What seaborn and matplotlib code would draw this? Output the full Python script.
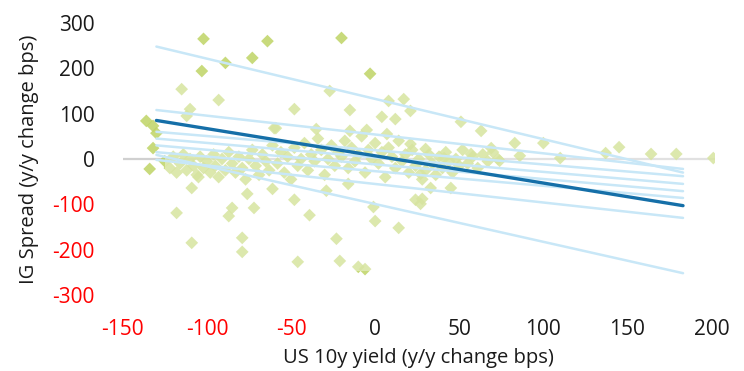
import numpy as np
import pandas as pd
import matplotlib
matplotlib.use("Agg")
import matplotlib.pyplot as plt
import seaborn as sns

# scatter: US 10y yield change (x) vs IG spread change (y), bps
yield_chg = [
    -102, -64, -20, -89, -103, -3, -73, -115, -93, -110, -112, -136, -132, -130, -132, -60,
    -134, -109, -105, -118, -109, -85, -87, -76, -72, -79, -79, -61,
    -48, -39, -23, -46, -21, -10, -6, -1, 0, 14, -29, -16, 24, 27,
    -27, -48, -15, 8, 17, 21, 4, 12, -59, -35, -15, -5, 7, 21,
    51, 63, 83, 100, 110, 86, 74, 30, 41, 57, 69,
    137, 145, 164, 179, 201, 28, 45, 33, 27,
    -125, -122, -120, -118, -116, -114, -112, -110, -108, -106, -104, -102, -100, -98, -96, -95,
    -93, -91, -89, -87, -85, -83, -81, -79, -77, -75, -73, -71, -69, -67, -65, -63, -61,
    -58, -56, -54, -52, -50, -48, -46, -44, -42, -40, -38, -36, -34, -32, -30, -28, -26,
    -24, -22, -20, -18, -16, -14, -12, -10, -8, -6, -4, -2, 0,
    2, 4, 6, 8, 10, 12, 14, 16, 18, 20, 22, 24, 26, 28, 30, 32, 34, 36, 38, 40,
    42, 44, 46, 48, 50, 52, 55, 58, 61, 64, 67, 70, 73,
]
spread_chg = [
    265, 260, 267, 212, 194, 188, 223, 154, 130, 110, 95, 84, 73, 57, 24, 68,
    -22, -64, -40, -119, -185, -108, -126, -77, -108, -174, -205, -66,
    -90, -124, -176, -227, -225, -238, -243, -106, -137, -152, -70, -55, -90, -99,
    150, 110, 108, 128, 132, 106, 93, 88, 68, 66, 62, 64, 55, 33,
    82, 62, 35, 35, 2, 7, -4, 22, 2, 11, 24,
    13, 26, 11, 11, 2, -88, -64, -64, -33,
    -5, -20, 5, -30, -10, 10, -25, 0, -15, -35, 5, -20, -5, -30, 10, -15,
    -40, 0, -25, 15, -10, -30, 5, -20, -45, 0, 20, -15, -35, 10, -5, -25, 30,
    -10, 15, -30, 5, -45, 25, -15, 0, 35, -25, 10, -5, 45, 20, -35, 0, 30,
    -15, 15, 5, 40, -20, 25, -5, 10, 50, -30, 20, 0, 35,
    -10, 15, -40, 25, 5, -20, 40, -5, 10, -30, 20, -15, 0, -45, -25, 10, -10, -35, 5, -20,
    15, -5, -30, 0, -15, 20, -10, 5, -20, 10, -5, 15, 0,
]

# fitted lines: value at x_start and at x_end
x_start, x_end = -130, 183
band_start = [248, 108, 60, 45, 30, 15, -2, 9]
band_end = [-30, -22, -38, -55, -71, -86, -130, -252]
ols_start, ols_end = 85, -103

x_ticks = [-150, -100, -50, 0, 50, 100, 150, 200]
y_ticks = [-300, -200, -100, 0, 100, 200, 300]

sns.set_style("white")
plt.rcParams['font.family'] = ['Open Sans', 'DejaVu Sans']

fig = plt.figure(figsize=(7.44, 3.71), dpi=100)
ax = fig.add_axes([0.165, 0.205, 0.796, 0.733])

pts = pd.DataFrame({'x': yield_chg, 'y': spread_chg})
sns.scatterplot(data=pts, x='x', y='y', marker='D', s=42, color='#bfd465',
                edgecolor='none', alpha=0.85, ax=ax, zorder=2)

# faded patch over the middle of the cloud, as in the source image
ax.add_patch(plt.Rectangle((-125, -248), 330, 420, facecolor='white',
                           edgecolor='none', alpha=0.38, zorder=3))

ax.axhline(0, color='#d0d0d0', lw=1.6, zorder=1)

for s0, s1 in zip(band_start, band_end):
    d = pd.DataFrame({'x': [x_start, x_end], 'y': [s0, s1]})
    sns.lineplot(data=d, x='x', y='y', color='#c8e7f7', lw=1.8, ax=ax, zorder=4)

d = pd.DataFrame({'x': [x_start, x_end], 'y': [ols_start, ols_end]})
sns.lineplot(data=d, x='x', y='y', color='#156fa8', lw=2.4, ax=ax, zorder=5)

ax.set_xlim(-150, 202)
ax.set_ylim(-300, 300)
ax.set_xticks(x_ticks)
ax.set_yticks(y_ticks)
ax.set_xticklabels([str(v) for v in x_ticks])
ax.set_yticklabels([str(v) for v in y_ticks])
ax.tick_params(axis='x', length=0, pad=17, labelsize=15)
ax.tick_params(axis='y', length=0, pad=20, labelsize=15)
for lab, v in zip(ax.get_xticklabels(), x_ticks):
    lab.set_color('#ff0000' if v < 0 else '#1a1a1a')
for lab, v in zip(ax.get_yticklabels(), y_ticks):
    lab.set_color('#ff0000' if v < 0 else '#1a1a1a')

for sp in ax.spines.values():
    sp.set_visible(False)

ax.set_xlabel("US 10y yield (y/y change bps)", fontsize=14.5, color='#1a1a1a', labelpad=6)
ax.set_ylabel("IG Spread (y/y change bps)", fontsize=14.5, color='#1a1a1a', labelpad=10)

fig.savefig("out.png", dpi=100)
